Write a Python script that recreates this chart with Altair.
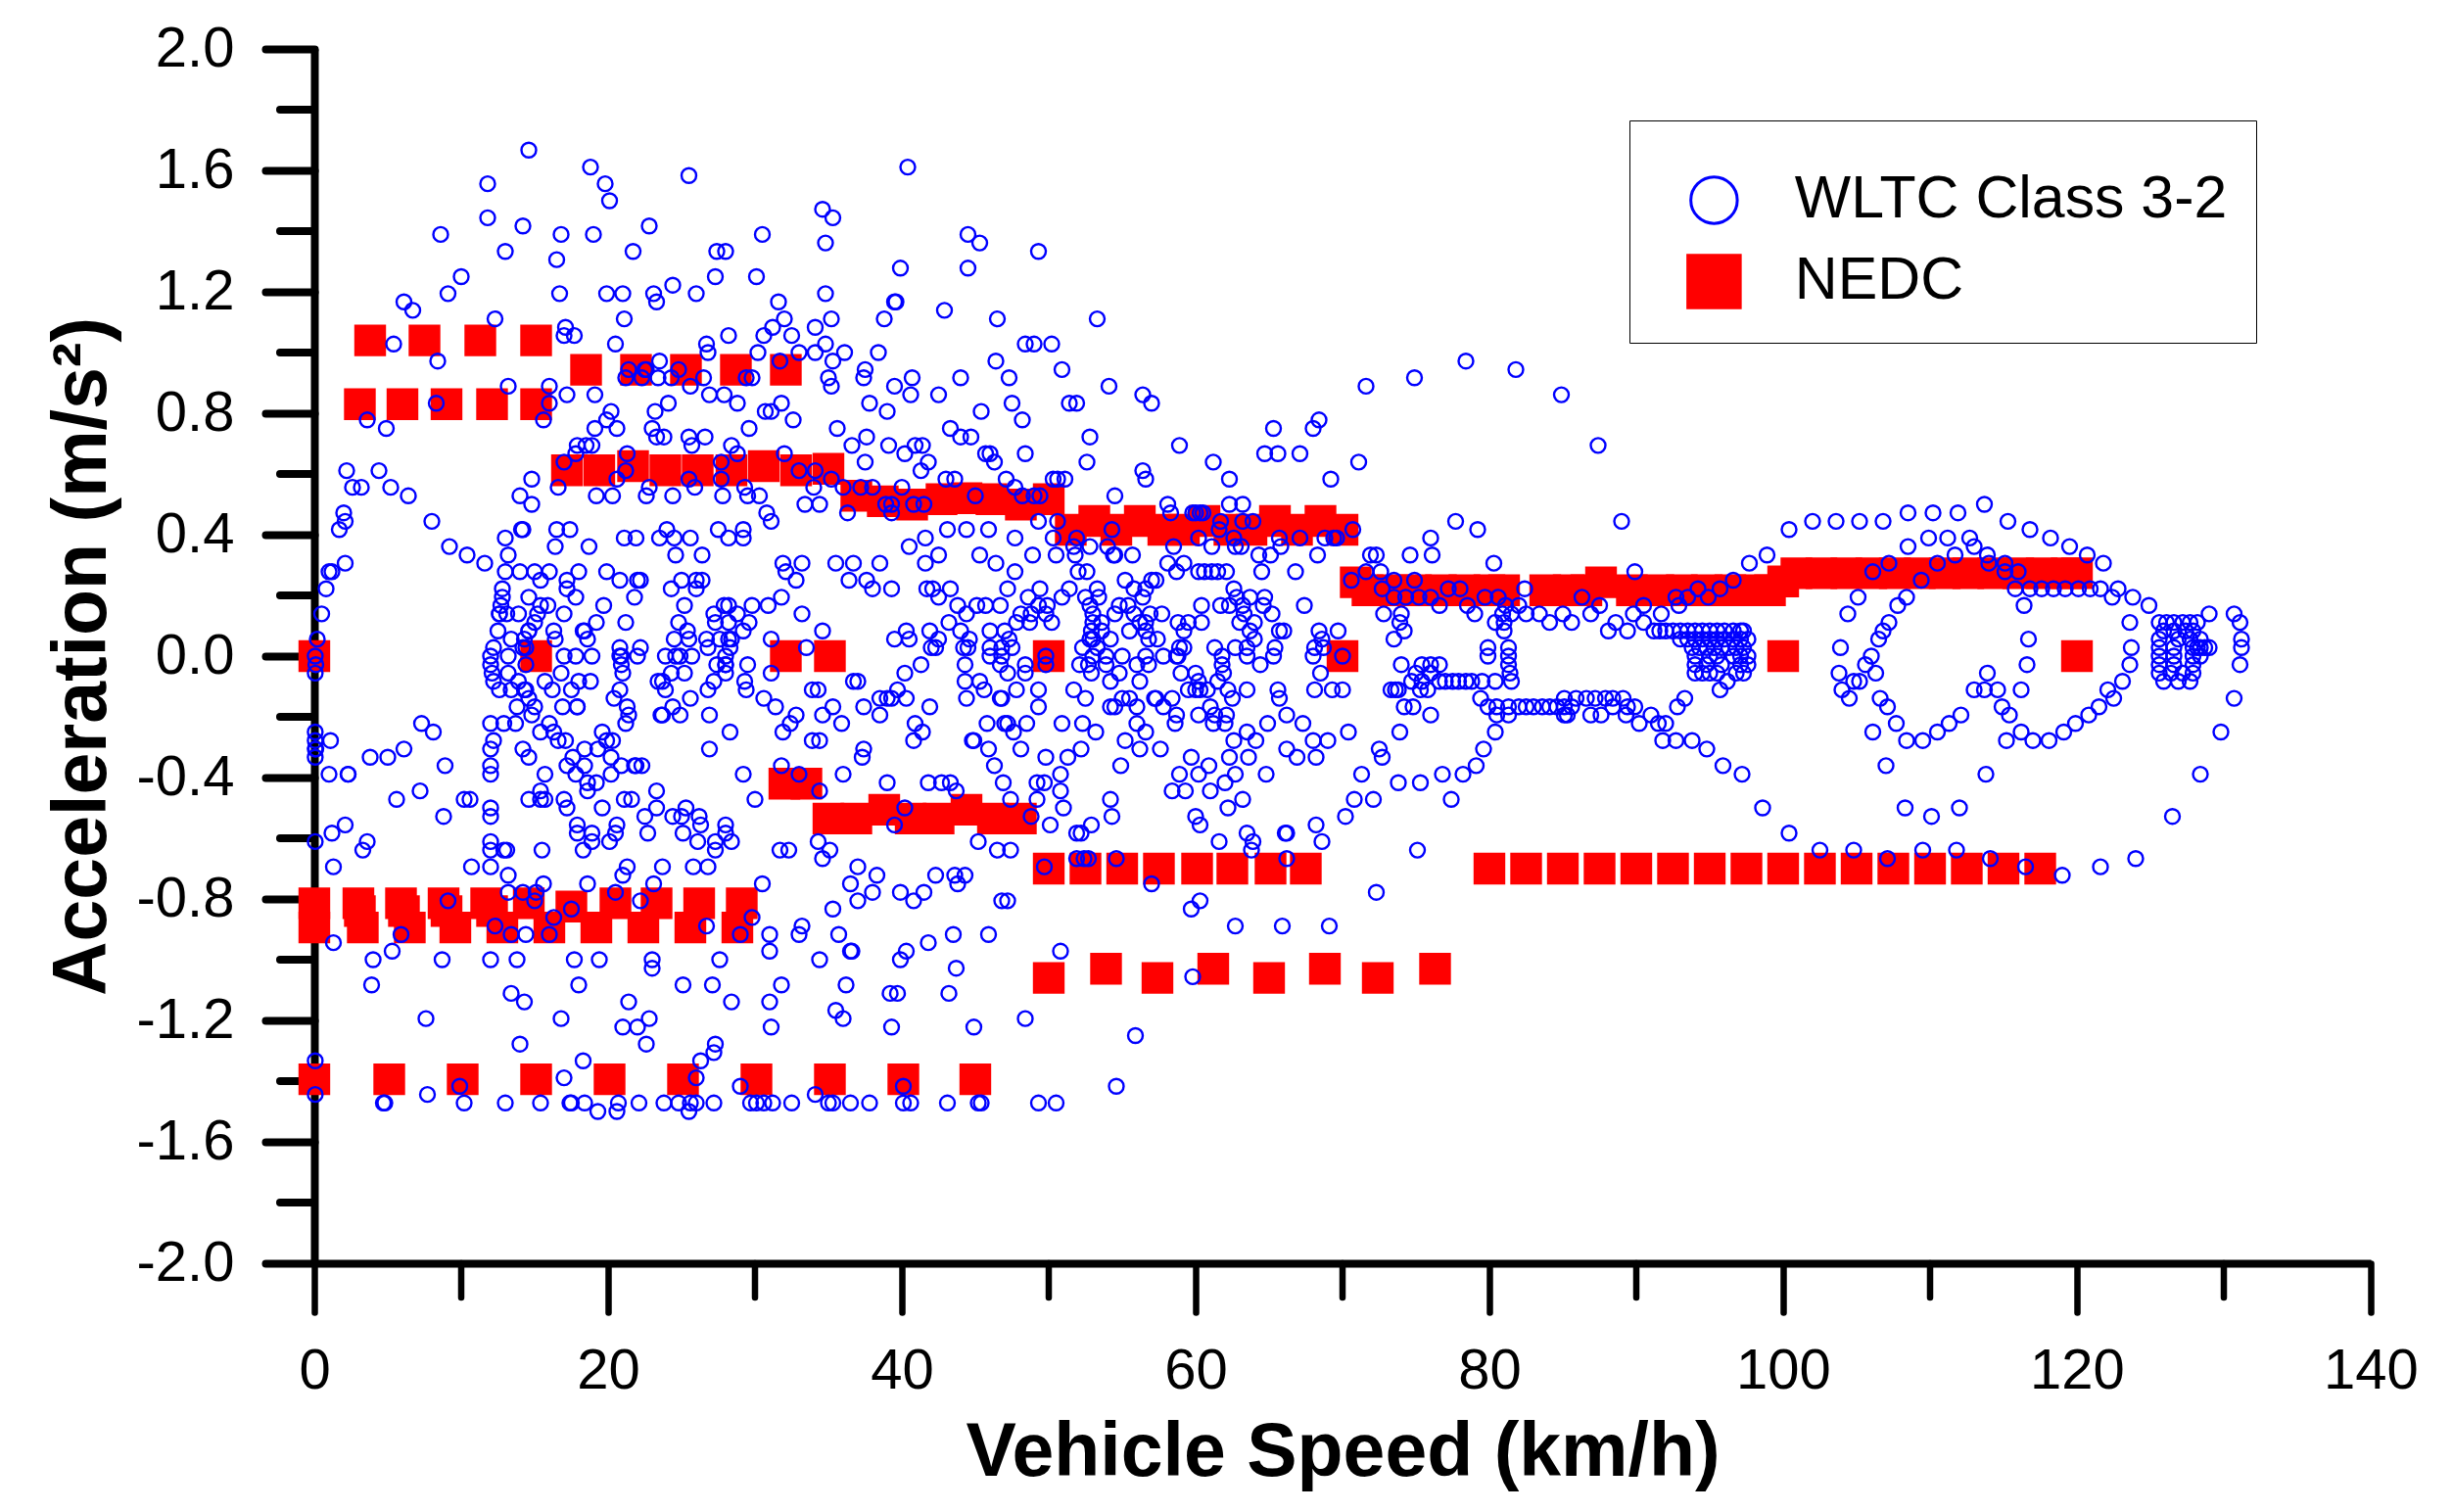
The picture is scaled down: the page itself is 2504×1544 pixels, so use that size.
import altair as alt
import pandas as pd

WLTC = "WLTC Class 3-2"
NEDC = "NEDC"

# WLTC: acceleration levels (m/s2) and the vehicle speeds (km/h) read at each level
wltc_accel_levels = [
    1.667, 1.611, 1.583, 1.556, 1.5, 1.472, 1.444, 1.417, 1.389, 1.361, 1.333, 1.306, 1.278, 1.25,
    1.222, 1.194, 1.167, 1.139, 1.111, 1.083, 1.056, 1.028, 1.0, 0.972, 0.944, 0.917, 0.889, 0.861,
    0.833, 0.806, 0.778, 0.75, 0.722, 0.694, 0.667, 0.639, 0.611, 0.583, 0.556, 0.528, 0.5, 0.472,
    0.444, 0.417, 0.389, 0.361, 0.333, 0.306, 0.278, 0.25, 0.222, 0.194, 0.167, 0.139, 0.111, 0.083,
    0.056, 0.028, 0.0, -0.028, -0.056, -0.083, -0.111, -0.139, -0.167, -0.194, -0.222, -0.25, -0.278,
    -0.306, -0.333, -0.361, -0.389, -0.417, -0.444, -0.472, -0.5, -0.528, -0.556, -0.583, -0.611,
    -0.639, -0.667, -0.694, -0.722, -0.75, -0.778, -0.806, -0.833, -0.861, -0.889, -0.917, -0.944,
    -0.972, -1.0, -1.028, -1.056, -1.083, -1.111, -1.139, -1.167, -1.194, -1.222, -1.25, -1.278,
    -1.306, -1.333, -1.389, -1.417, -1.444, -1.472, -1.5,
]
wltc_speeds_by_level = [
    [14.6],
    [18.8, 40.4],
    [25.5],
    [11.8, 19.8],
    [20.1],
    [34.6],
    [35.3, 11.8],
    [14.2, 22.8],
    [8.6, 16.8, 19.0, 30.5, 44.5],
    [34.8, 45.3],
    [13.0, 21.7, 27.4, 28.0, 49.3],
    [16.5],
    [39.9, 44.5],
    [10.0, 27.3, 30.1],
    [24.4],
    [9.1, 16.7, 19.9, 21.0, 23.1, 26.0, 34.8],
    [6.1, 23.3, 31.6, 39.5, 39.6],
    [6.7, 42.9],
    [12.3, 21.1, 32.0, 35.2, 38.8, 46.5, 53.3],
    [17.1, 31.2, 34.1],
    [17.0, 17.7, 28.2, 30.6, 32.5],
    [5.4, 20.5, 26.7, 34.8, 48.4, 49.0, 50.2],
    [26.8, 30.2, 33.0, 34.1, 36.1, 38.4],
    [8.4, 23.5, 31.7, 35.3, 46.4, 78.4],
    [21.4, 22.5, 22.6, 24.8, 37.5, 50.9, 81.8],
    [21.2, 22.3, 23.4, 24.3, 26.5, 29.4, 29.8, 35.0, 37.4, 40.7, 44.0, 47.3, 74.9],
    [13.2, 16.0, 25.6, 35.2, 39.5, 54.1, 71.6],
    [17.2, 19.1, 26.9, 27.9, 40.6, 42.5, 56.4, 84.9],
    [8.3, 16.0, 24.1, 28.8, 31.8, 37.8, 47.5, 51.4, 57.0, 51.9],
    [20.2, 23.2, 30.7, 31.1, 39.0, 45.4],
    [3.6, 15.6, 19.9, 32.6, 48.2, 68.4],
    [4.9, 19.1, 20.6, 23.0, 29.6, 35.6, 43.3, 65.3, 68.0],
    [23.3, 23.8, 25.5, 26.6, 37.6, 44.0, 44.7, 52.8],
    [17.9, 18.5, 18.9, 25.7, 28.4, 36.6, 39.1, 40.9, 41.4, 58.9, 87.4],
    [17.8, 21.3, 28.8, 32.0, 40.2, 45.7, 46.0, 48.4, 64.7, 65.6, 67.1],
    [17.0, 27.7, 37.5, 41.8, 46.3, 52.6, 61.2, 71.1],
    [2.2, 4.4, 21.2, 33.0, 34.1, 41.3, 56.4],
    [14.8, 20.6, 25.5, 27.7, 35.2, 43.0, 43.6, 47.1, 50.3, 50.6, 51.1, 56.6, 62.3, 69.2],
    [2.6, 3.2, 5.2, 16.6, 22.8, 25.9, 29.3, 34.0, 36.0, 37.2, 38.0, 40.0, 47.7],
    [6.4, 14.0, 19.2, 20.3, 22.6, 24.4, 27.8, 29.5, 30.3, 45.0, 54.5, 48.2, 49.0, 49.4],
    [14.8, 33.4, 34.4, 38.9, 39.3, 40.8, 41.5, 58.1, 62.3, 63.2, 113.7],
    [2.0, 30.8, 36.3, 39.3, 58.3, 59.8, 60.0, 60.3, 60.5, 108.5, 110.2, 111.9],
    [2.1, 8.0, 31.1, 49.3, 50.6, 61.7, 63.2, 63.9, 77.7, 89.0, 102.0, 103.6, 105.2, 106.8, 115.3],
    [1.7, 14.1, 14.2, 16.5, 17.4, 24.0, 27.5, 29.2, 43.1, 44.4, 45.9, 54.3, 61.6, 70.7, 79.2, 100.4, 116.8],
    [13.0, 21.1, 21.9, 23.5, 24.5, 25.6, 28.2, 29.2, 41.6, 47.7, 50.3, 51.9, 60.2, 62.6, 65.7, 67.1,
     68.8, 69.4, 69.6, 76.0, 118.2, 109.9, 111.2, 112.7],
    [9.2, 16.4, 18.7, 40.5, 52.8, 54.0, 51.7, 58.5, 61.1, 62.7, 63.1, 65.8, 119.5, 108.5, 113.0],
    [10.4, 13.2, 24.6, 26.4, 42.5, 45.3, 48.9, 50.5, 51.8, 54.4, 54.5, 55.7, 64.3, 65.1, 68.3, 71.9,
     72.3, 74.6, 76.1, 120.7, 98.9, 111.7, 113.9],
    [2.1, 11.6, 31.9, 33.2, 35.5, 36.7, 38.5, 41.6, 46.4, 58.1, 59.2, 80.3, 121.8, 115.1, 107.2, 110.5,
     114.0, 97.7],
    [1.0, 1.2, 13.0, 14.0, 15.0, 16.0, 18.0, 19.9, 32.1, 47.7, 52.0, 52.6, 58.7, 60.2, 60.6, 61.1, 61.5,
     62.1, 64.5, 66.8, 71.6, 72.6, 106.1, 115.1, 116.0, 89.9],
    [15.4, 17.2, 20.8, 22.0, 22.2, 25.0, 26.0, 26.4, 32.8, 36.4, 37.6, 55.2, 57.0, 57.3, 70.6, 73.5,
     74.9, 109.4, 96.6],
    [0.8, 12.8, 17.2, 24.3, 26.0, 38.0, 39.3, 41.7, 42.1, 43.3, 47.2, 49.4, 51.4, 53.3, 55.8, 56.6,
     62.6, 72.7, 77.2, 78.0, 95.7, 94.2, 82.4, 115.8, 116.8, 117.6, 118.4, 119.2, 120.1, 120.9, 121.6, 122.8],
    [12.8, 14.6, 17.8, 21.8, 31.8, 42.5, 48.6, 50.9, 52.5, 53.4, 56.4, 62.8, 63.7, 64.7, 73.5, 74.3,
     75.2, 76.0, 79.7, 80.6, 94.9, 93.5, 92.7, 86.3, 105.1, 108.4, 123.8, 122.4],
    [12.7, 15.4, 15.9, 19.7, 25.2, 27.9, 28.2, 29.8, 30.9, 43.8, 45.1, 45.7, 46.7, 49.3, 49.9, 52.8,
     54.8, 55.4, 60.4, 61.7, 62.3, 63.2, 64.6, 67.4, 76.6, 78.5, 124.9, 107.8, 116.4, 87.5, 90.5, 92.9,
     81.1, 82.0],
    [0.5, 12.6, 12.6, 13.1, 13.9, 15.2, 17.0, 27.2, 28.8, 33.2, 44.4, 48.1, 48.8, 49.8, 53.0, 54.5,
     55.8, 56.9, 57.7, 63.3, 65.2, 72.8, 74.0, 79.0, 104.4, 82.5, 83.4, 85.0, 86.9, 89.8, 91.7, 80.9,
     81.5, 129.0, 130.7],
    [15.0, 19.2, 21.2, 24.8, 27.3, 28.2, 29.6, 43.2, 47.8, 48.7, 50.2, 53.0, 53.6, 56.2, 56.6, 58.8,
     59.5, 60.4, 63.0, 64.0, 73.9, 80.4, 107.2, 123.6, 81.0, 84.1, 85.6, 88.6, 90.5, 125.6, 126.1,
     126.6, 127.2, 127.7, 128.2, 131.1],
    [12.5, 14.6, 14.6, 16.3, 18.3, 18.4, 25.4, 29.2, 34.6, 40.3, 41.9, 44.0, 46.0, 47.0, 52.9, 53.6,
     55.5, 56.6, 59.2, 63.7, 65.7, 66.0, 68.4, 69.7, 74.2, 106.8, 81.0, 88.1, 89.4, 91.2, 91.6, 92.0,
     92.5, 93.0, 93.5, 94.0, 94.5, 95.0, 95.5, 96.0, 96.6, 97.1, 97.3, 125.9, 126.6, 127.4, 127.9],
    [0.2, 13.4, 14.3, 16.4, 18.6, 24.5, 25.5, 26.7, 27.6, 28.2, 28.4, 31.1, 39.5, 40.5, 42.5, 44.6,
     47.3, 52.8, 53.0, 54.2, 56.8, 57.4, 64.0, 68.6, 73.5, 106.5, 116.7, 93.0, 93.5, 94.0, 94.5, 95.0,
     95.5, 96.0, 96.6, 97.1, 97.6, 125.6, 126.9, 127.7, 128.4, 131.2],
    [12.2, 14.2, 14.4, 20.8, 22.2, 26.8, 28.3, 33.5, 42.0, 42.3, 44.2, 44.5, 46.0, 46.8, 47.5, 52.3,
     53.3, 58.9, 59.2, 61.3, 62.7, 63.5, 65.4, 68.1, 68.7, 79.9, 103.9, 123.7, 81.3, 93.8, 94.3, 94.8,
     95.3, 95.8, 96.3, 96.8, 97.3, 125.6, 126.6, 127.9, 128.2, 128.4, 128.7, 129.0, 131.2],
    [0.06, 12.0, 13.2, 17.0, 17.8, 18.9, 20.8, 20.9, 22.0, 23.9, 24.6, 24.9, 25.7, 28.0, 46.0, 46.8,
     49.8, 53.0, 53.9, 55.0, 56.6, 57.8, 58.7, 58.8, 61.8, 63.5, 65.3, 68.0, 70.0, 79.9, 81.3, 106.0,
     94.0, 95.0, 95.5, 96.6, 97.1, 97.6, 125.6, 126.6, 127.9, 128.4],
    [0.1, 12.0, 14.4, 20.9, 27.4, 28.0, 28.0, 29.5, 41.3, 44.3, 46.7, 48.4, 49.8, 52.1, 52.7, 53.9,
     56.0, 56.8, 61.8, 64.4, 74.0, 75.4, 76.0, 76.6, 81.3, 105.6, 116.6, 123.6, 94.0, 94.8, 95.8, 97.1,
     97.6, 125.6, 126.6, 127.9, 131.1],
    [0.06, 12.1, 13.2, 16.8, 21.0, 24.3, 25.2, 28.0, 31.1, 40.2, 47.2, 48.4, 52.9, 54.8, 59.0, 60.0,
     61.9, 68.5, 75.0, 76.0, 81.4, 103.8, 106.3, 113.9, 94.0, 94.5, 95.0, 95.5, 96.8, 97.3, 125.6,
     126.4, 127.2, 127.9],
    [12.2, 13.9, 15.7, 18.0, 18.8, 23.4, 23.7, 27.2, 29.3, 36.7, 37.0, 44.3, 45.3, 54.2, 56.2, 60.2,
     61.5, 74.7, 75.4, 76.6, 77.0, 77.5, 77.9, 78.4, 78.8, 79.5, 80.4, 123.1, 105.2, 104.8, 96.2, 81.5,
     125.9, 126.9, 127.7],
    [12.6, 13.4, 14.3, 14.4, 16.2, 17.5, 20.8, 23.9, 26.8, 29.4, 33.9, 34.3, 39.7, 45.6, 47.8, 49.3,
     51.7, 59.5, 60.0, 60.3, 60.8, 62.2, 63.5, 65.6, 68.1, 69.3, 70.0, 73.3, 73.6, 73.8, 75.3, 75.8,
     113.0, 113.7, 114.6, 116.2, 122.1, 104.0, 95.7],
    [14.6, 20.4, 25.6, 30.6, 38.5, 39.0, 39.3, 40.3, 44.4, 46.7, 46.8, 52.5, 55.0, 55.5, 57.2, 57.3,
     58.4, 62.5, 65.7, 79.4, 104.5, 106.6, 122.5, 130.7, 85.1, 85.9, 86.6, 87.2, 87.9, 88.4, 89.1, 93.3],
    [13.8, 15.0, 16.9, 17.9, 17.9, 21.3, 24.4, 31.4, 35.3, 37.4, 41.9, 49.3, 54.2, 54.5, 56.0, 57.8,
     61.0, 74.2, 74.8, 79.9, 107.1, 114.9, 121.5, 80.5, 81.3, 82.0, 82.5, 83.0, 83.6, 84.1, 84.6, 85.1,
     85.6, 88.4, 89.4, 89.9, 92.8],
    [14.8, 21.4, 23.6, 23.7, 24.9, 26.9, 32.8, 34.6, 38.5, 58.7, 60.2, 61.3, 62.1, 66.2, 76.0, 80.5,
     115.4, 120.8, 112.1, 89.3, 91.0, 85.1, 85.3, 86.9, 87.6, 81.3],
    [7.3, 12.0, 12.9, 13.7, 16.0, 21.2, 32.4, 35.9, 40.9, 45.8, 47.0, 47.2, 48.5, 50.9, 52.3, 56.0,
     58.6, 61.2, 62.0, 64.9, 67.3, 111.3, 119.9, 107.7, 90.2, 91.5, 92.0],
    [0.06, 8.1, 15.4, 16.3, 19.6, 28.3, 31.9, 41.4, 47.6, 53.2, 56.6, 63.5, 70.4, 73.9, 80.4, 110.5,
     119.1, 106.1, 116.2, 129.8],
    [0.06, 1.1, 12.2, 16.6, 17.1, 19.9, 20.3, 33.9, 34.4, 40.8, 44.8, 44.9, 55.2, 62.6, 64.1, 68.0,
     69.0, 108.4, 109.5, 115.2, 117.0, 118.1, 91.8, 92.7, 93.8],
    [0.06, 0.1, 6.1, 12.0, 14.2, 18.4, 19.3, 26.9, 37.4, 45.9, 48.1, 52.2, 56.2, 57.6, 66.2, 72.5, 79.6, 94.8],
    [0.06, 3.8, 5.0, 14.6, 17.6, 20.2, 37.3, 49.8, 51.3, 59.7, 62.3, 63.6, 66.9, 68.2, 72.7],
    [8.9, 12.0, 17.2, 18.4, 20.9, 21.8, 21.9, 22.3, 31.8, 46.3, 54.9, 60.9, 79.1, 107.0, 95.9],
    [1.0, 2.3, 2.3, 12.0, 15.7, 17.8, 20.2, 29.2, 33.0, 36.0, 50.8, 58.9, 60.2, 62.7, 64.8, 71.3, 76.8,
     78.2, 113.8, 128.4, 97.2],
    [18.6, 19.2, 39.0, 41.8, 42.7, 43.3, 46.9, 49.2, 49.7, 62.0, 73.8, 75.3],
    [7.2, 15.4, 18.6, 23.3, 34.4, 43.7, 50.8, 58.4, 59.3, 61.0],
    [5.6, 10.2, 10.6, 14.6, 15.4, 15.7, 17.0, 21.1, 21.6, 30.0, 47.4, 49.2, 54.2, 63.2, 70.8, 72.1, 77.4],
    [12.0, 17.2, 19.6, 23.3, 25.3, 40.2, 51.0, 62.2, 108.3, 112.0, 98.6],
    [8.8, 12.0, 22.5, 24.4, 25.0, 26.2, 48.8, 54.3, 60.0, 70.2, 110.1, 126.5],
    [2.1, 17.9, 20.6, 26.3, 28.0, 39.5, 50.1, 52.9, 60.3, 68.2],
    [1.2, 51.9, 100.4, 63.5, 66.2, 52.2, 18.9, 22.7, 25.1, 66.1, 17.9, 20.5, 28.0],
    [0.06, 3.6, 12.0, 18.9, 20.1, 26.1, 27.3, 28.4, 34.3, 45.2, 68.6, 63.9, 61.6],
    [3.3, 12.0, 12.9, 13.1, 15.5, 18.3, 27.3, 31.7, 32.3, 35.1, 46.5, 47.4, 75.1, 102.5, 104.8, 109.5,
     111.8, 63.8],
    [34.6, 51.9, 107.1, 114.1, 124.0, 66.2, 54.6, 52.4, 52.7],
    [1.3, 10.7, 12.0, 21.3, 23.7, 25.8, 26.8, 37.0, 49.7, 116.5, 121.6],
    [13.2, 21.0, 38.3, 42.3, 43.6, 44.3, 119.0],
    [15.6, 18.6, 23.1, 30.5, 36.5, 43.8, 57.0],
    [13.2, 14.2, 15.1, 20.5, 38.0, 39.9, 41.5, 72.3],
    [9.1, 15.0, 22.2, 37.0, 40.8, 46.8, 47.2, 60.3],
    [17.5, 35.3, 59.7],
    [16.3, 29.8],
    [12.3, 26.7, 33.2, 62.7, 65.9, 69.1],
    [5.9, 13.4, 14.4, 16.0, 29.0, 31.0, 33.0, 35.7, 43.5, 45.9],
    [1.3, 41.8],
    [5.3, 31.0, 36.5, 36.6, 40.3, 50.8],
    [4.0, 8.7, 12.0, 13.8, 17.7, 19.4, 23.0, 27.6, 34.4, 39.9],
    [23.0, 43.7],
    [59.8],
    [3.9, 18.0, 25.1, 27.1, 31.8, 36.2],
    [13.4, 39.2, 39.7, 43.2],
    [14.3, 21.4, 28.4, 31.0],
    [35.5],
    [7.6, 16.8, 22.8, 36.0, 48.4],
    [21.0, 22.0, 31.1, 39.3, 44.9],
    [55.9],
    [14.0, 22.6, 27.3],
    [27.2],
    [0.06, 18.3, 26.3],
    [17.0, 26.0],
    [9.9, 29.0, 40.1, 54.6],
    [0.06, 7.7, 34.1],
    [4.7, 4.8, 10.2, 13.0, 15.4, 17.4, 17.5, 18.4, 20.7, 22.1, 23.8, 24.8, 25.6, 26.0, 27.2, 29.7, 30.1,
     30.6, 31.2, 32.5, 35.0, 35.3, 36.5, 37.8, 40.1, 40.6, 43.1, 45.2, 45.4, 49.3, 50.5],
    [19.3, 20.6, 25.5],
]
assert len(wltc_accel_levels) == len(wltc_speeds_by_level)

# NEDC
nedc_speed = [
    0, 15.1, 32.1, 35.1, 50.0, 70.0, 100.0, 120.0,
    3.8, 7.5, 11.3, 15.1,
    3.1, 6.0, 9.0, 12.1, 15.1,
    18.5, 21.9, 25.3, 28.7, 32.1,
    17.2, 19.4, 21.7, 23.9, 26.1, 28.4, 30.6, 32.8, 35.0,
    36.9, 38.7, 40.7, 42.7, 44.4, 46.1, 48.1, 50.0,
    51.5, 53.1, 54.6, 56.2, 57.8, 59.2, 60.6, 62.3, 63.8, 65.4, 66.9, 68.5, 70.0,
    70.9, 87.6, 100.0,
    71.7, 73.4, 75.0, 76.7, 78.3, 80.0, 81.0, 83.8, 85.4, 86.6, 89.7, 91.5, 93.1, 94.8, 96.4, 98.0, 99.1,
    100.9, 102.6, 104.3, 106.0, 107.6, 109.3, 111.0, 112.6, 114.3, 116.0, 117.6, 119.3, 120.0,
    50.0, 52.5, 55.0, 57.5, 60.1, 62.5, 65.1, 67.5,
    80.0, 82.5, 85.0, 87.5, 90.0, 92.5, 95.0, 97.5, 100.0, 102.5, 105.0, 107.5, 110.0, 112.5, 115.0, 117.5,
    50.0, 53.9, 57.4, 61.2, 65.0, 68.8, 72.4, 76.3,
    35.0, 36.9, 38.8, 40.6, 42.5, 44.4, 46.2, 48.1,
    32.0, 33.5,
    0, 3.0, 5.9, 8.8, 11.7, 14.6, 17.5, 20.5, 23.3, 26.2, 29.1,
    3.1, 6.1, 9.0, 12.1,
    0, 3.3, 6.5, 9.6, 12.8, 16.0, 19.2, 22.4, 25.6, 28.8,
    0, 5.1, 10.1, 15.1, 20.1, 25.1, 30.1, 35.1, 40.1, 45.0,
]
nedc_accel = [
    0, 0, 0, 0, 0, 0, 0, 0,
    1.04, 1.04, 1.04, 1.04,
    0.83, 0.83, 0.83, 0.83, 0.83,
    0.943, 0.943, 0.943, 0.943, 0.943,
    0.612, 0.612, 0.626, 0.612, 0.612, 0.612, 0.626, 0.612, 0.617,
    0.528, 0.51, 0.499, 0.517, 0.52, 0.517, 0.499, 0.517,
    0.416, 0.445, 0.416, 0.445, 0.416, 0.416, 0.445, 0.416, 0.416, 0.445, 0.416, 0.445, 0.416,
    0.243, 0.243, 0.246,
    0.217, 0.217, 0.217, 0.217, 0.217, 0.217, 0.217, 0.217, 0.217, 0.217, 0.217, 0.217, 0.217, 0.217, 0.217, 0.217, 0.217,
    0.273, 0.273, 0.273, 0.273, 0.273, 0.273, 0.273, 0.273, 0.273, 0.273, 0.273, 0.273, 0.273,
    -0.7, -0.7, -0.7, -0.7, -0.7, -0.7, -0.7, -0.7,
    -0.7, -0.7, -0.7, -0.7, -0.7, -0.7, -0.7, -0.7, -0.7, -0.7, -0.7, -0.7, -0.7, -0.7, -0.7, -0.7,
    -1.06, -1.03, -1.06, -1.03, -1.06, -1.03, -1.06, -1.03,
    -0.535, -0.535, -0.506, -0.535, -0.535, -0.506, -0.535, -0.535,
    -0.42, -0.42,
    -0.814, -0.814, -0.814, -0.814, -0.814, -0.814, -0.825, -0.814, -0.814, -0.814, -0.814,
    -0.84, -0.84, -0.84, -0.84,
    -0.894, -0.894, -0.894, -0.894, -0.894, -0.894, -0.894, -0.894, -0.894, -0.894,
    -1.394, -1.394, -1.394, -1.394, -1.394, -1.394, -1.394, -1.394, -1.394, -1.394,
]
assert len(nedc_speed) == len(nedc_accel)

x_major = [0, 20, 40, 60, 80, 100, 120, 140]
x_minor = [10, 30, 50, 70, 90, 110, 130]
y_major = [2.0, 1.6, 1.2, 0.8, 0.4, 0.0, -0.4, -0.8, -1.2, -1.6, -2.0]
y_minor = [1.8, 1.4, 1.0, 0.6, 0.2, -0.2, -0.6, -1.0, -1.4, -1.8]

rows = [{"speed": s, "accel": a, "series": NEDC, "kind": "solid"} for s, a in zip(nedc_speed, nedc_accel)]
for level, speeds in zip(wltc_accel_levels, wltc_speeds_by_level):
    rows += [{"speed": s, "accel": level, "series": WLTC, "kind": "open"} for s in speeds]
df = pd.DataFrame(rows)
df["draw"] = range(len(df))

FONT = "Liberation Sans"
W, H = 2100, 1240
x_scale = alt.Scale(domain=[0, 140], nice=False, zero=False)
y_scale = alt.Scale(domain=[-2, 2], nice=False, zero=False)
dom = [WLTC, NEDC]
square_path = "M-1.128,-1.128H1.128V1.128H-1.128Z"

x_axis = alt.Axis(
    values=x_major, grid=False, format="d", tickSize=50, tickWidth=6.5, tickCap="round",
    domainWidth=8, domainColor="black", tickColor="black", labelFont=FONT, labelFontSize=58,
    labelColor="black", labelPadding=60, labelBaseline="middle", labelFlush=False,
    title="Vehicle Speed (km/h)", titleFont=FONT, titleFontSize=77, titleFontWeight="bold",
    titleColor="black", titlePadding=16)
y_axis = alt.Axis(
    values=y_major, grid=False, tickSize=50, tickWidth=8, tickCap="round",
    labelExpr="datum.value < 0 ? '-' + format(-datum.value, '.1f') : format(datum.value, '.1f')",
    domainWidth=8, domainColor="black", tickColor="black", labelFont=FONT, labelFontSize=58,
    labelColor="black", labelPadding=32, labelFlush=False,
    title="Acceleration (m/s²)", titleFont=FONT, titleFontSize=77, titleFontWeight="bold",
    titleColor="black", titlePadding=16)
legend = alt.Legend(
    orient="none", legendX=1343, legendY=73, title=" ", titleFontSize=4, titlePadding=18,
    labelFont=FONT, labelFontSize=60.8, labelColor="black", labelLimit=700, labelOffset=52,
    symbolSize=2250, symbolStrokeWidth=3, symbolOffset=27, rowPadding=19, padding=29,
    strokeColor="black", fillColor="white", values=dom)

points = alt.Chart(df).mark_point(filled=False, strokeWidth=2.4, opacity=1).encode(
    x=alt.X("speed:Q", scale=x_scale, axis=x_axis),
    y=alt.Y("accel:Q", scale=y_scale, axis=y_axis),
    shape=alt.Shape("series:N", scale=alt.Scale(domain=dom, range=["circle", square_path]), legend=legend),
    stroke=alt.Stroke("series:N", scale=alt.Scale(domain=dom, range=["#0000ff", "#ff0000"]), legend=legend),
    fill=alt.Fill("series:N", scale=alt.Scale(domain=dom, range=["transparent", "#ff0000"]), legend=legend),
    size=alt.Size("kind:N", scale=alt.Scale(domain=["open", "solid"], range=[225, 707]), legend=None),
    order=alt.Order("draw:Q"),
)

minor_x = alt.Chart(pd.DataFrame({"v": x_minor})).mark_rule(
    color="black", strokeWidth=6.5, strokeCap="round").encode(
    x=alt.X("v:Q", scale=x_scale, axis=x_axis), y=alt.value(H), y2=alt.value(H + 35))
minor_y = alt.Chart(pd.DataFrame({"v": y_minor})).mark_rule(
    color="black", strokeWidth=8, strokeCap="round").encode(
    y=alt.Y("v:Q", scale=y_scale, axis=y_axis), x=alt.value(-35), x2=alt.value(0))

chart = alt.layer(minor_x, minor_y, points).properties(
    width=W, height=H,
    autosize=alt.AutoSizeParams(type="none"),
    padding={"left": 313, "top": 42, "right": 70, "bottom": 252},
    background="white",
).configure_view(stroke=None)

chart.save("out.html", embed_options={"renderer": "svg", "actions": False})
